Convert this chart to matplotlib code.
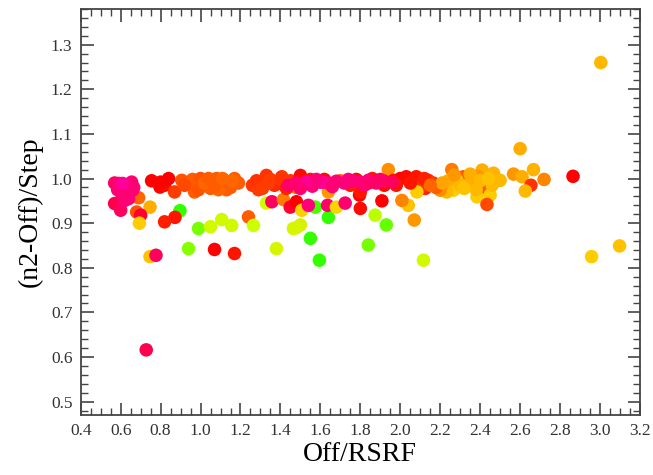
import numpy as np
import matplotlib
matplotlib.use('Agg')
import matplotlib.pyplot as plt
from matplotlib.colors import LinearSegmentedColormap
from matplotlib.ticker import MultipleLocator

# dados : Off/RSRF , (n2-Off)/Step , cor (0 verde -> 1 rosa)

# faixa principal perto de 1.0 (laranja / vermelho)
band_x = [0.755, 0.797, 0.82, 0.84, 0.87, 0.80, 0.906, 0.93, 0.97, 0.96, 1.00, 1.03,
          1.06, 1.08, 1.10, 1.12, 1.15, 1.17, 1.19, 1.00, 1.05, 1.13, 1.26, 1.30,
          1.33, 1.38, 1.407, 1.29, 1.35, 1.42, 1.45, 1.50, 1.48, 1.64, 1.80, 1.84,
          1.90, 1.94, 2.00, 2.03, 2.08, 1.967, 2.125, 2.14, 2.165, 2.10, 2.217, 2.258,
          2.317, 2.283, 2.36, 2.41, 2.467, 2.50, 2.434, 2.384, 2.45, 2.434, 2.267, 2.233,
          2.20, 2.083, 2.04, 2.008, 2.07, 2.567, 2.61, 2.667, 2.72, 2.654, 2.626, 2.865,
          2.60, 2.33, 2.39, 1.70, 1.75, 1.88,
          0.95, 0.99, 1.02, 1.04, 1.09, 1.14, 1.16, 1.07, 0.92, 1.11,
          1.28, 1.31, 1.37, 1.40, 1.43, 1.34, 1.55, 1.62, 1.78, 1.86, 1.92, 1.98,
          2.05, 2.12, 2.18, 2.24, 2.30, 2.35, 2.40, 2.46, 2.27, 2.21, 2.15, 2.44, 2.38, 2.32]
band_y = [0.995, 0.981, 0.985, 1.000, 0.970, 0.992, 0.996, 0.990, 0.970, 0.998, 0.985, 0.995,
          0.990, 1.000, 0.985, 0.995, 0.980, 1.000, 0.990, 1.000, 0.978, 0.975, 0.985, 0.989,
          1.007, 0.992, 1.004, 0.975, 0.998, 0.985, 0.995, 1.007, 0.980, 0.970, 0.970, 0.990,
          0.995, 1.020, 1.000, 1.004, 1.004, 0.996, 0.978, 0.996, 0.990, 0.981, 0.985, 1.020,
          1.004, 0.996, 0.990, 1.019, 1.012, 0.996, 0.978, 0.959, 0.963, 0.942, 0.974, 0.970,
          0.974, 0.970, 0.940, 0.951, 0.907, 1.010, 1.004, 1.020, 0.998, 0.985, 0.972, 1.005,
          1.067, 0.985, 1.005, 0.995, 0.985, 0.992,
          0.985, 0.975, 0.990, 1.000, 0.975, 0.990, 0.995, 0.982, 0.985, 1.000,
          0.995, 0.978, 0.985, 0.998, 0.978, 0.990, 0.998, 0.998, 0.998, 1.000, 0.985, 0.985,
          0.990, 1.000, 0.980, 0.995, 0.985, 1.010, 0.995, 0.985, 1.008, 0.990, 0.985, 1.000, 0.975, 0.978]
band_c = [0.80, 0.80, 0.78, 0.80, 0.68, 0.80, 0.64, 0.64, 0.62, 0.62, 0.62, 0.62,
          0.62, 0.62, 0.62, 0.62, 0.62, 0.62, 0.62, 0.64, 0.62, 0.62, 0.70, 0.70,
          0.70, 0.74, 0.70, 0.68, 0.68, 0.72, 0.70, 0.78, 0.58, 0.50, 0.76, 0.78,
          0.78, 0.52, 0.80, 0.78, 0.76, 0.78, 0.74, 0.72, 0.68, 0.70, 0.55, 0.56,
          0.62, 0.40, 0.48, 0.46, 0.45, 0.44, 0.62, 0.40, 0.40, 0.66, 0.40, 0.44,
          0.52, 0.40, 0.42, 0.54, 0.50, 0.50, 0.46, 0.45, 0.54, 0.70, 0.44, 0.80,
          0.46, 0.46, 0.50, 0.60, 0.74, 0.70,
          0.62, 0.64, 0.60, 0.62, 0.60, 0.62, 0.60, 0.62, 0.66, 0.60,
          0.70, 0.68, 0.72, 0.70, 0.74, 0.68, 0.76, 0.78, 0.78, 0.76, 0.78, 0.76,
          0.76, 0.74, 0.62, 0.46, 0.44, 0.46, 0.44, 0.44, 0.50, 0.48, 0.60, 0.42, 0.44, 0.42]

# faixa rosa (por cima)
pink_x = [0.57, 0.59, 0.63, 0.655, 0.665, 0.64, 0.605, 0.62, 0.66, 0.57, 0.60, 0.62,
          0.585, 0.64, 0.61, 1.44, 1.48, 1.52, 1.56, 1.60, 1.64, 1.68, 1.72, 1.76,
          1.80, 1.84, 1.88, 1.92, 1.96, 1.53, 1.61, 1.50, 1.58, 1.66, 1.74, 1.82, 1.90]
pink_y = [0.990, 0.989, 0.985, 0.992, 0.980, 0.970, 0.966, 0.960, 0.974, 0.944, 0.929, 0.951,
          0.975, 0.955, 0.989, 0.985, 0.990, 0.988, 0.983, 0.992, 0.990, 0.994, 0.990, 0.995,
          0.992, 0.996, 0.990, 0.994, 0.992, 0.992, 0.992, 0.978, 0.998, 0.982, 0.998, 0.985, 0.998]
pink_c = [0.93, 0.94, 0.95, 0.95, 0.94, 0.95, 0.95, 0.94, 0.95, 0.90, 0.92, 0.95,
          0.95, 0.95, 1.00, 0.93, 0.95, 0.96, 0.95, 0.96, 0.95, 0.95, 0.96, 0.95,
          0.96, 0.95, 0.93, 0.94, 0.92, 1.00, 1.00, 0.94, 0.96, 0.95, 0.96, 0.94, 0.93]

# pontos espalhados abaixo da faixa
low_x = [0.69, 0.747, 0.68, 0.70, 0.694, 0.897, 0.872, 0.82, 0.99, 1.05, 1.106, 1.156,
         0.94, 1.07, 1.17, 0.747, 0.777, 0.728, 1.24, 1.265, 1.38, 1.465, 1.50, 1.48,
         1.55, 1.595, 1.64, 1.574, 1.33, 1.357, 1.415, 1.449, 1.48, 1.507, 1.54, 1.636,
         1.68, 1.724, 1.796, 1.80, 1.874, 1.93, 1.84, 1.908, 2.116, 2.958, 3.098, 3.004]
low_y = [0.957, 0.936, 0.925, 0.918, 0.900, 0.928, 0.913, 0.903, 0.888, 0.892, 0.908, 0.895,
         0.843, 0.841, 0.832, 0.825, 0.828, 0.616, 0.914, 0.895, 0.843, 0.888, 0.896, 0.890,
         0.866, 0.817, 0.913, 0.936, 0.945, 0.948, 0.953, 0.936, 0.948, 0.929, 0.940, 0.940,
         0.936, 0.945, 0.963, 0.933, 0.918, 0.896, 0.851, 0.950, 0.817, 0.825, 0.849, 1.260]
low_c = [0.60, 0.46, 0.64, 0.86, 0.40, 0.02, 0.76, 0.74, 0.10, 0.22, 0.22, 0.22,
         0.12, 0.80, 0.76, 0.42, 0.92, 0.90, 0.62, 0.20, 0.24, 0.24, 0.26, 0.24,
         0.02, 0.02, 0.02, 0.04, 0.22, 0.92, 0.56, 0.86, 0.80, 0.38, 0.96, 0.94,
         0.36, 0.94, 0.80, 0.78, 0.18, 0.08, 0.10, 0.80, 0.22, 0.40, 0.42, 0.44]

cmap = LinearSegmentedColormap.from_list(
    'hue', ['#22ff00', '#ccff00', '#ffcc00', '#ff6600', '#ff0000', '#ff0099'])

plt.rcParams['font.family'] = ['Liberation Serif', 'DejaVu Serif']

fig = plt.figure(figsize=(6.53, 4.75), dpi=100)
ax = fig.add_axes([0.1236, 0.1263, 0.8564, 0.8547])

for xs, ys, cs in [(low_x, low_y, low_c), (band_x, band_y, band_c), (pink_x, pink_y, pink_c)]:
    ax.scatter(xs, ys, c=cs, cmap=cmap, vmin=0, vmax=1, s=95, linewidths=0)

ax.set_xlim(0.4, 3.2)
ax.set_ylim(0.47, 1.38)
ax.xaxis.set_major_locator(MultipleLocator(0.2))
ax.xaxis.set_minor_locator(MultipleLocator(0.05))
ax.yaxis.set_major_locator(MultipleLocator(0.1))
ax.yaxis.set_minor_locator(MultipleLocator(0.02))
ax.tick_params(which='both', direction='in', top=True, right=True, color='#444444',
               labelcolor='#333333', labelsize=12.5, pad=6)
ax.tick_params(which='major', length=9, width=1.2)
ax.tick_params(which='minor', length=5, width=1.0)
ax.xaxis.set_major_formatter(plt.FormatStrFormatter('%.1f'))
ax.yaxis.set_major_formatter(plt.FormatStrFormatter('%.1f'))
for sp in ax.spines.values():
    sp.set_color('#444444')
    sp.set_linewidth(1.3)

ax.set_xlabel('Off/RSRF', fontsize=20, labelpad=2)
ax.set_ylabel('(n2-Off)/Step', fontsize=20, labelpad=6)

fig.savefig('out.png', dpi=100)
